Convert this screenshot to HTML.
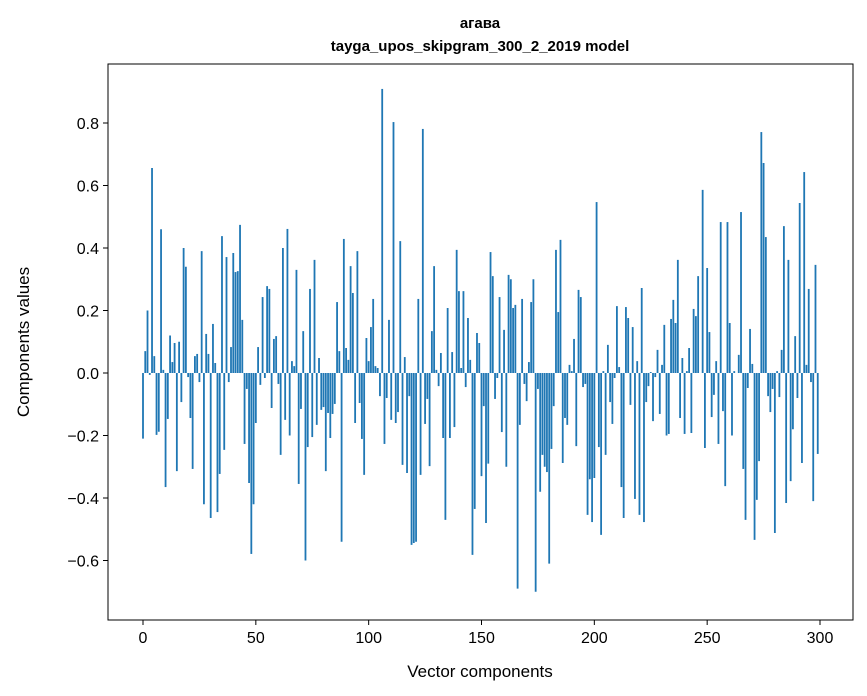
<!DOCTYPE html>
<html><head><meta charset="utf-8"><style>
body{margin:0;background:#fff}
svg{display:block;font-family:"Liberation Sans","DejaVu Sans",sans-serif}
</style></head><body>
<svg id="chart" width="867" height="696">
<text x="480" y="28" text-anchor="middle" font-size="15" font-weight="bold">агава</text>
<text x="480" y="51" text-anchor="middle" font-size="15" font-weight="bold">tayga_upos_skipgram_300_2_2019 model</text>
<g id="bars"></g>
<g id="axes"></g>
<rect x="108" y="64" width="745" height="556" fill="none" stroke="#000" stroke-width="1"/>
<text x="480" y="677" text-anchor="middle" font-size="17">Vector components</text>
<text transform="translate(29,342) rotate(-90)" text-anchor="middle" font-size="17">Components values</text>
</svg>
<script>
const values=[-0.21,0.07,0.2,-0.006,0.656,0.054,-0.198,-0.188,0.46,0.01,
-0.365,-0.147,0.12,0.035,0.096,-0.314,0.1,-0.093,0.4,0.34,
-0.013,-0.144,-0.307,0.054,0.061,-0.029,0.39,-0.42,0.125,0.061,
-0.464,0.157,0.032,-0.445,-0.323,0.438,-0.246,0.371,-0.029,0.083,
0.384,0.323,0.326,0.474,0.17,-0.227,-0.051,-0.352,-0.579,-0.42,
-0.16,0.083,-0.038,0.243,-0.016,0.278,0.269,-0.112,0.109,0.118,
-0.035,-0.262,0.4,-0.15,0.461,-0.2,0.038,0.022,0.33,-0.355,
-0.115,0.134,-0.6,-0.237,0.269,-0.205,0.362,-0.166,0.048,-0.118,
-0.109,-0.314,-0.128,-0.208,-0.131,-0.099,0.227,0.07,-0.54,0.429,
0.08,0.042,0.342,0.256,-0.16,0.39,-0.096,-0.211,-0.326,0.112,
0.038,0.147,0.237,0.022,0.016,-0.074,0.909,-0.227,-0.08,0.17,
-0.15,0.803,-0.16,-0.125,0.422,-0.294,0.051,-0.32,-0.074,-0.55,
-0.544,-0.54,0.237,-0.326,0.781,-0.163,-0.083,-0.298,0.134,0.342,
0.01,-0.042,0.064,-0.208,-0.47,0.208,-0.208,0.067,-0.173,0.394,
0.262,0.016,0.262,-0.045,0.176,0.042,-0.582,-0.435,0.128,0.096,
-0.33,-0.106,-0.48,-0.29,0.387,0.31,-0.083,-0.016,0.243,-0.189,
0.138,-0.3,0.314,0.3,0.208,0.218,-0.69,-0.166,0.237,-0.035,
-0.09,0.035,0.227,0.3,-0.7,-0.051,-0.38,-0.262,-0.3,-0.317,
-0.61,-0.243,-0.106,0.394,0.195,0.426,-0.288,-0.144,-0.166,0.026,
0.006,0.109,-0.234,0.266,0.243,-0.045,-0.035,-0.454,-0.34,-0.477,
-0.336,0.547,-0.237,-0.518,0.006,-0.262,0.09,-0.093,-0.163,-0.016,
0.214,0.019,-0.365,-0.464,0.211,0.176,-0.102,0.147,-0.403,0.038,
-0.454,0.272,-0.477,-0.093,-0.042,0.003,-0.154,-0.013,0.074,-0.131,
0.026,0.154,-0.2,-0.195,0.173,0.234,0.16,0.362,-0.144,0.048,
-0.195,0.006,0.08,-0.192,0.205,0.182,0.31,0.0,0.586,-0.24,
0.336,0.131,-0.141,-0.07,0.038,-0.227,0.483,-0.122,-0.362,0.483,
0.16,-0.2,0.006,0.0,0.058,0.515,-0.307,-0.47,-0.048,0.141,
0.029,-0.534,-0.406,-0.282,0.771,0.672,0.435,-0.074,-0.125,-0.051,
-0.512,0.006,-0.077,0.074,0.47,-0.416,0.362,-0.346,-0.18,0.118,
-0.08,0.544,-0.288,0.643,0.026,0.269,-0.029,-0.41,0.346,-0.259];
const xTicks=[0,50,100,150,200,250,300];
const yTicks=[-0.6,-0.4,-0.2,0.0,0.2,0.4,0.6,0.8];
const yTickLabels=["\u22120.6","\u22120.4","\u22120.2","0.0","0.2","0.4","0.6","0.8"];
const NS="http://www.w3.org/2000/svg";
function xs(i){return 143+i*(677/300);}
function ys(v){return 373-v*312.5;}
const bw=0.8*(677/300);
const bars=document.getElementById('bars');
values.forEach((v,i)=>{
  const r=document.createElementNS(NS,'rect');
  const y0=ys(0),y1=ys(v);
  r.setAttribute('x',xs(i)-bw/2);
  r.setAttribute('y',Math.min(y0,y1));
  r.setAttribute('width',bw);
  r.setAttribute('height',Math.abs(y1-y0));
  r.setAttribute('fill','#1f77b4');
  
  
  bars.appendChild(r);
});
const axes=document.getElementById('axes');
xTicks.forEach(t=>{
  const l=document.createElementNS(NS,'line');
  l.setAttribute('x1',xs(t));l.setAttribute('x2',xs(t));
  l.setAttribute('y1',620);l.setAttribute('y2',625);
  l.setAttribute('stroke','#000');
  
  
  axes.appendChild(l);
  const tx=document.createElementNS(NS,'text');
  tx.setAttribute('x',xs(t));tx.setAttribute('y',643);
  tx.setAttribute('text-anchor','middle');tx.setAttribute('font-size','16');
  tx.textContent=t;
  
  
  axes.appendChild(tx);
});
yTicks.forEach((t,k)=>{
  const l=document.createElementNS(NS,'line');
  l.setAttribute('x1',103);l.setAttribute('x2',108);
  l.setAttribute('y1',ys(t));l.setAttribute('y2',ys(t));
  l.setAttribute('stroke','#000');
  
  
  axes.appendChild(l);
  const tx=document.createElementNS(NS,'text');
  tx.setAttribute('x',99);tx.setAttribute('y',ys(t)+6);
  tx.setAttribute('text-anchor','end');tx.setAttribute('font-size','16');
  tx.textContent=yTickLabels[k];
  
  
  axes.appendChild(tx);
});
</script>
</body></html>
